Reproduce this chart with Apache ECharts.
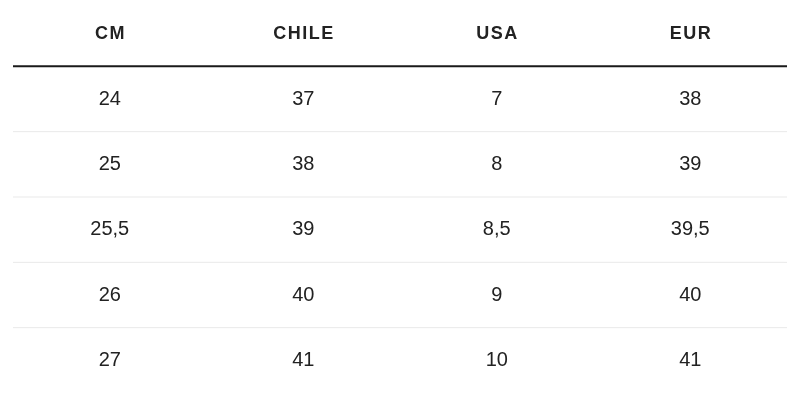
<!DOCTYPE html>
<html><head><meta charset="utf-8">
<script src="https://cdn.jsdelivr.net/npm/echarts@6/dist/echarts.min.js"></script>
<style>html,body{margin:0;background:#fff}#c{width:800px;height:405px}</style>
</head><body><div id="c"></div>
<script>
const headers = ['CM','CHILE','USA','EUR'];
const cm = ['24','25','25,5','26','27'];
const chile = ['37','38','39','40','41'];
const usa = ['7','8','8,5','9','10'];
const eur = ['38','39','39,5','40','41'];
const rows = ['h','r1','r2','r3','r4','r5'];

const cols = [cm, chile, usa, eur];
const cells = [];
headers.forEach((h,i)=>cells.push([i,0,h,1]));
cols.forEach((col,i)=>col.forEach((v,j)=>cells.push([i,j+1,v,0])));
const lines = [[1,1],[2,0],[3,0],[4,0],[5,0]];

const chart = echarts.init(document.getElementById('c'));
chart.setOption({
  animation:false,
  grid:{left:13,right:13,top:1,height:392},
  xAxis:{type:'category',data:headers,show:false},
  yAxis:{type:'category',data:rows,inverse:true,show:false},
  series:[
    {type:'custom',data:lines,renderItem:(p,api)=>{
      const y = api.coord([0,api.value(0)])[1] - api.size([0,1])[1]/2;
      const strong = api.value(1)===1;
      return {type:'line',shape:{x1:p.coordSys.x,y1:y,x2:p.coordSys.x+p.coordSys.width,y2:y},
        style:{stroke:strong?'#1a1a1a':'#e9e9e9',lineWidth:strong?2:1}};
    }},
    {type:'custom',data:cells,renderItem:(p,api)=>{
      const c = api.coord([api.value(0),api.value(1)]);
      const bold = api.value(3)===1;
      const t = cells[p.dataIndex][2];
      return {type:'text',x:c[0],y:c[1],style:{text:bold?t.split('').join('\u200A'):t,
        align:'center',verticalAlign:'middle',fill:'#222',
        font:(bold?'bold 18px':'20px')+' "Liberation Sans", Arial, sans-serif'}};
    }}
  ]
});
</script></body></html>
